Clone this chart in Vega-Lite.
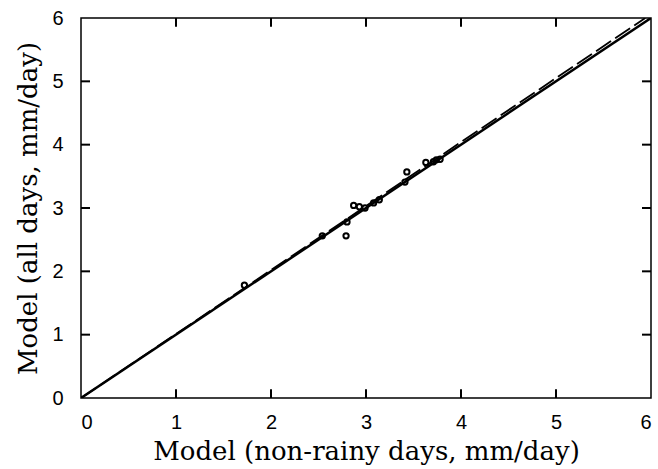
{
  "$schema": "https://vega.github.io/schema/vega-lite/v6.json",
  "width": 570,
  "height": 380,
  "autosize": {"type": "none"},
  "padding": {"left": 81, "top": 18, "right": 7, "bottom": 71},
  "background": "white",
  "config": {
    "view": {"stroke": "black", "strokeWidth": 1.5},
    "axis": {
      "domain": false,
      "grid": false,
      "ticks": false,
      "labelFont": "Liberation Sans",
      "labelFontSize": 20,
      "labelColor": "black",
      "titleFont": "DejaVu Serif",
      "titleFontSize": 26,
      "titleFontWeight": "normal",
      "titleColor": "black"
    }
  },
  "datasets": {
    "solid": [{"x": 0, "y": 0}, {"x": 6, "y": 6}],
    "dashed": [{"x": 0, "y": 0}, {"x": 5.94, "y": 6}],
    "xticks": [{"x": 1}, {"x": 2}, {"x": 3}, {"x": 4}, {"x": 5}],
    "yticks": [{"y": 1}, {"y": 2}, {"y": 3}, {"y": 4}, {"y": 5}],
    "points": [
      {"x": 1.72, "y": 1.78},
      {"x": 2.54, "y": 2.56},
      {"x": 2.79, "y": 2.56},
      {"x": 2.80, "y": 2.78},
      {"x": 2.87, "y": 3.04},
      {"x": 2.93, "y": 3.02},
      {"x": 2.99, "y": 3.0},
      {"x": 3.08, "y": 3.08},
      {"x": 3.14, "y": 3.13},
      {"x": 3.41, "y": 3.41},
      {"x": 3.43, "y": 3.57},
      {"x": 3.63, "y": 3.72},
      {"x": 3.71, "y": 3.73},
      {"x": 3.74, "y": 3.76},
      {"x": 3.78, "y": 3.77}
    ]
  },
  "layer": [
    {
      "data": {"name": "solid"},
      "mark": {"type": "line", "color": "black", "strokeWidth": 2.5, "clip": true},
      "encoding": {
        "x": {"field": "x", "type": "quantitative", "scale": {"domain": [0, 6], "nice": false},
          "axis": {"orient": "bottom", "values": [0, 1, 2, 3, 4, 5, 6], "format": "d", "labelPadding": 14, "title": "Model (non-rainy days, mm/day)", "titlePadding": 6}},
        "y": {"field": "y", "type": "quantitative", "scale": {"domain": [0, 6], "nice": false},
          "axis": {"orient": "left", "values": [0, 1, 2, 3, 4, 5, 6], "format": "d", "labelPadding": 18, "title": "Model (all days, mm/day)", "titlePadding": 10}}
      }
    },
    {
      "data": {"name": "dashed"},
      "mark": {"type": "line", "color": "black", "strokeWidth": 1.8, "strokeDash": [18, 5], "clip": true},
      "encoding": {
        "x": {"field": "x", "type": "quantitative"},
        "y": {"field": "y", "type": "quantitative"}
      }
    },
    {
      "data": {"name": "xticks"},
      "mark": {"type": "rule", "color": "black", "strokeWidth": 2},
      "encoding": {
        "x": {"field": "x", "type": "quantitative"},
        "y": {"datum": 0},
        "y2": {"datum": 0.14}
      }
    },
    {
      "data": {"name": "xticks"},
      "mark": {"type": "rule", "color": "black", "strokeWidth": 2},
      "encoding": {
        "x": {"field": "x", "type": "quantitative"},
        "y": {"datum": 6},
        "y2": {"datum": 5.86}
      }
    },
    {
      "data": {"name": "yticks"},
      "mark": {"type": "rule", "color": "black", "strokeWidth": 2},
      "encoding": {
        "y": {"field": "y", "type": "quantitative"},
        "x": {"datum": 0},
        "x2": {"datum": 0.095}
      }
    },
    {
      "data": {"name": "yticks"},
      "mark": {"type": "rule", "color": "black", "strokeWidth": 2},
      "encoding": {
        "y": {"field": "y", "type": "quantitative"},
        "x": {"datum": 6},
        "x2": {"datum": 5.905}
      }
    },
    {
      "data": {"name": "points"},
      "mark": {"type": "point", "shape": "circle", "filled": false, "color": "black", "opacity": 1, "size": 28, "strokeWidth": 2},
      "encoding": {
        "x": {"field": "x", "type": "quantitative"},
        "y": {"field": "y", "type": "quantitative"}
      }
    }
  ]
}
